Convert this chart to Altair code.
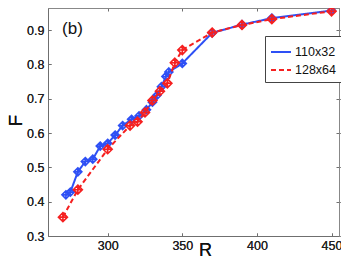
import altair as alt
import pandas as pd

# ---- data ----
blue_R = [272, 275, 280, 285, 290, 295, 300, 305, 310, 316, 321, 326, 330, 333, 336, 339, 341, 350, 370, 390, 410, 450]
blue_F = [0.420, 0.428, 0.487, 0.517, 0.524, 0.562, 0.570, 0.594, 0.622, 0.640, 0.650, 0.668, 0.690, 0.710, 0.735, 0.765, 0.778, 0.803, 0.892, 0.916, 0.935, 0.957]
red_R = [270, 280, 300, 315, 320, 325, 330, 335, 340, 345, 350, 370, 390, 410, 450]
red_F = [0.355, 0.435, 0.553, 0.622, 0.633, 0.660, 0.695, 0.722, 0.745, 0.805, 0.842, 0.893, 0.915, 0.932, 0.955]
series_names = ["110x32", "128x64"]
series_colors = ["#2e50f5", "#f52020"]
x_ticks = [300, 350, 400, 450]
y_ticks = [0.3, 0.4, 0.5, 0.6, 0.7, 0.8, 0.9]
panel_label = "(b)"

df = pd.concat([
    pd.DataFrame({"R": blue_R, "F": blue_F, "series": series_names[0]}),
    pd.DataFrame({"R": red_R, "F": red_F, "series": series_names[1]}),
], ignore_index=True)

FONT = "Liberation Sans"
AX = "#6f6f6f"
W, H = 291, 228
xscale = alt.Scale(domain=[260, 455], nice=False, zero=False)
yscale = alt.Scale(domain=[0.3, 0.9645], nice=False, zero=False)
cscale = alt.Scale(domain=series_names, range=series_colors)
dscale = alt.Scale(domain=series_names, range=[[1, 0], [5, 3]])

marker = "M0,-1L1,0L0,1L-1,0Z M0,-1L0,1 M-1,0L1,0"

x_bottom = alt.X("R:Q", scale=xscale, axis=alt.Axis(
    values=x_ticks, orient="bottom", offset=-3, tickSize=3, domain=False, grid=False,
    labelPadding=3, labelFontSize=12.5, labelColor="#222", tickColor=AX, labelFont=FONT,
    title="R", titleFontSize=18, titleFont=FONT, titleFontWeight="normal", titleColor="#111",
    titleX=157, titleY=17.5, titleBaseline="middle", titleAnchor="start", titleAlign="center"))
y_left = alt.Y("F:Q", scale=yscale, axis=alt.Axis(
    values=y_ticks, orient="left", offset=-3, tickSize=3, domain=False, grid=False,
    labelPadding=4, labelFontSize=12.5, labelColor="#222", tickColor=AX, labelFont=FONT, format=".1f",
    title="F", titleFontSize=19, titleFont=FONT, titleFontWeight="normal", titleColor="#111",
    titleX=-36, titleY=112, titleAngle=270, titleBaseline="middle", titleAlign="center", titleAnchor="start"))

base = alt.Chart(df)

def line_layer(name):
    return base.transform_filter(alt.datum.series == name).mark_line(strokeWidth=2).encode(
        x=x_bottom, y=y_left,
        color=alt.Color("series:N", scale=cscale, title=None),
        strokeDash=alt.StrokeDash("series:N", scale=dscale, title=None),
    )

def point_layer(name, color, size):
    return base.transform_filter(alt.datum.series == name).mark_point(
        shape=marker, filled=False, strokeWidth=1.6, size=size, opacity=1, color=color).encode(
        x=alt.X("R:Q", scale=xscale), y=alt.Y("F:Q", scale=yscale),
    )

# top and right tick axes only (no marks drawn)
frame = base.transform_filter("false").mark_point(opacity=0).encode(
    x=alt.X("R:Q", scale=xscale, axis=alt.Axis(values=x_ticks, orient="top", offset=-3, tickSize=3,
            domain=False, grid=False, labels=False, title=None, tickColor=AX)),
    y=alt.Y("F:Q", scale=yscale, axis=alt.Axis(values=y_ticks, orient="right", offset=-3, tickSize=3,
            domain=False, grid=False, labels=False, title=None, tickColor=AX)),
)

label_df = pd.DataFrame({"R": [276.4], "F": [0.902], "t": [panel_label]})
label = alt.Chart(label_df).mark_text(fontSize=17, font=FONT, color="#111", align="center", baseline="middle").encode(
    x=alt.X("R:Q", scale=xscale), y=alt.Y("F:Q", scale=yscale), text="t:N")

chart = alt.layer(
    line_layer(series_names[0]), point_layer(series_names[0], series_colors[0], 64),
    line_layer(series_names[1]), point_layer(series_names[1], series_colors[1], 81),
    frame, label,
).resolve_axis(x="independent", y="independent").properties(
    width=W, height=H,
    padding={"left": 40, "top": 0, "right": 2, "bottom": 24},
    autosize=alt.AutoSizeParams(type="none"),
).configure_view(stroke=AX, strokeWidth=1).configure_legend(
    orient="none", legendX=217, legendY=28, strokeColor="#444", fillColor="white",
    padding=5, symbolType="stroke", symbolSize=400, symbolStrokeWidth=2,
    labelFontSize=12.5, labelFont=FONT, labelColor="#111", labelOffset=3, rowPadding=0,
    cornerRadius=0,
)

chart.save("out.html", embed_options={"renderer": "svg", "actions": False})
